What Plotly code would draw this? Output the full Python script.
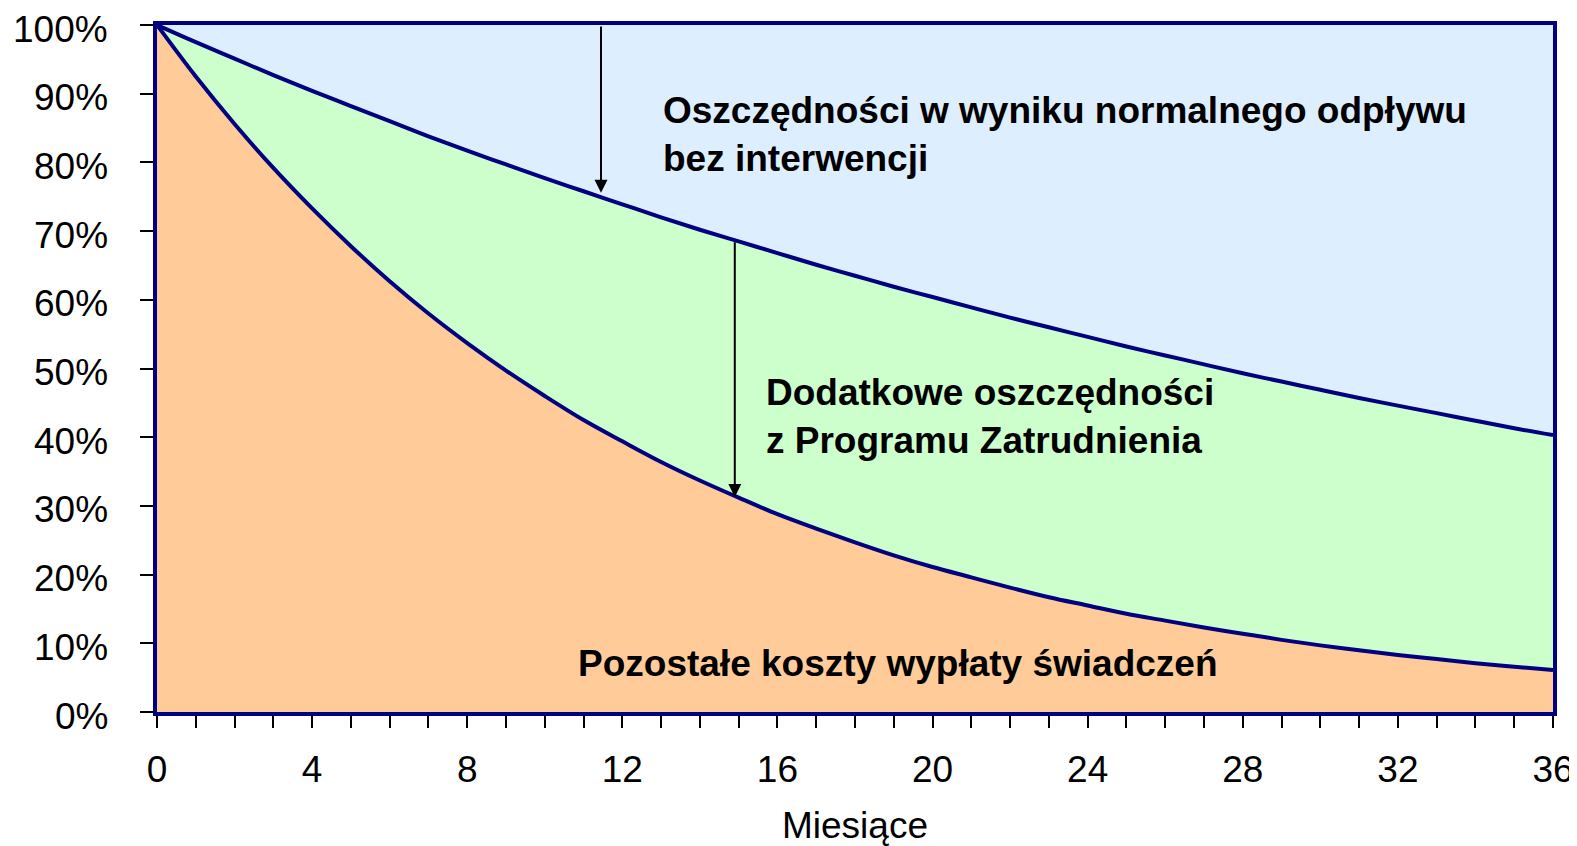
import plotly.graph_objects as go

months = list(range(0, 37))
# Share of costs without intervention (normal outflow), %
upper = [100, 97.5, 95.1, 92.7, 90.4, 88.2, 86.0, 83.8, 81.7, 79.7, 77.7, 75.8, 73.9,
         72.0, 70.2, 68.5, 66.8, 65.1, 63.5, 61.9, 60.4, 58.9, 57.4, 56.0, 54.6,
         53.2, 51.9, 50.6, 49.3, 48.1, 46.9, 45.7, 44.6, 43.5, 42.4, 41.3, 40.3]
# Remaining benefit costs with employment programme, %
lower = [100, 92.5, 85.6, 79.2, 73.3, 67.8, 62.7, 58.0, 53.7, 49.7, 46.0, 42.5, 39.4,
         36.4, 33.7, 31.2, 28.8, 26.7, 24.7, 22.8, 21.1, 19.6, 18.1, 16.7, 15.5,
         14.3, 13.3, 12.3, 11.4, 10.5, 9.7, 9.0, 8.3, 7.7, 7.1, 6.6, 6.1]

x_ticks = list(range(0, 37, 4))
y_ticks = list(range(0, 101, 10))
y_labels = [f"{v}%" for v in y_ticks]

NAVY = "#000080"
FONT = "Liberation Sans, Arial, sans-serif"

fig = go.Figure()
fig.add_trace(go.Scatter(x=months, y=upper, mode="lines", fill="tozeroy",
                         fillcolor="#CCFFCC", line=dict(color=NAVY, width=4, shape="spline"),
                         hoverinfo="skip", showlegend=False))
fig.add_trace(go.Scatter(x=months, y=lower, mode="lines", fill="tozeroy",
                         fillcolor="#FFCC99", line=dict(color=NAVY, width=4, shape="spline"),
                         hoverinfo="skip", showlegend=False))

texts = [
    (13.0, 84.0, "Oszczędności w wyniku normalnego odpływu<br>bez interwencji"),
    (15.65, 43.0, "Dodatkowe oszczędności<br>z Programu Zatrudnienia"),
    (10.8, 7.1, "Pozostałe koszty wypłaty świadczeń"),
]
for tx, ty, t in texts:
    fig.add_annotation(x=tx, y=ty, xref="x", yref="y", text="<b>" + t + "</b>",
                       showarrow=False, xanchor="left", yanchor="middle", align="left",
                       font=dict(family=FONT, size=37, color="black"))

# y tick labels (sit slightly below their ticks, as in the original)
for v, lab in zip(y_ticks, y_labels):
    fig.add_annotation(x=0, y=v, xref="paper", yref="y", text=lab, showarrow=False,
                       xanchor="right", yanchor="middle", xshift=-47, yshift=-4,
                       font=dict(family=FONT, size=37, color="black"))

arrows = [(11.45, 100, 11.45, 75.6), (14.9, 68.6, 14.9, 31.3)]
for x0, y0, x1, y1 in arrows:
    fig.add_annotation(x=x1, y=y1, ax=x0, ay=y0, xref="x", yref="y", axref="x", ayref="y",
                       text="", showarrow=True, arrowhead=2, arrowsize=1.3,
                       arrowwidth=2, arrowcolor="black", standoff=0, startstandoff=0)

# page body has an 8px margin, so the figure is sized/offset to fit the window
fig.update_layout(
    width=1569, height=838,
    margin=dict(l=149, r=24, t=17, b=134, autoexpand=False),
    paper_bgcolor="white", plot_bgcolor="#DDEEFF",
    font=dict(family=FONT, size=37, color="black"),
    xaxis=dict(range=[0, 36], tickvals=x_ticks, ticks="outside", ticklen=12, tickwidth=2,
               tickcolor="black", showgrid=False, zeroline=False,
               showline=True, linecolor=NAVY, linewidth=4, mirror=True,
               minor=dict(dtick=1, tick0=0, ticks="outside", ticklen=12, tickwidth=2,
                          tickcolor="black", showgrid=False),
               ticklabelstandoff=10, ticklabeloverflow="allow",
               title=dict(text="Miesiące", font=dict(size=37), standoff=24)),
    yaxis=dict(range=[0, 100], tickvals=y_ticks, showticklabels=False, ticks="outside",
               ticklen=13, tickwidth=2, tickcolor="black", showgrid=False, zeroline=False,
               showline=True, linecolor=NAVY, linewidth=4, mirror=True),
)

fig.write_html("out.html")
